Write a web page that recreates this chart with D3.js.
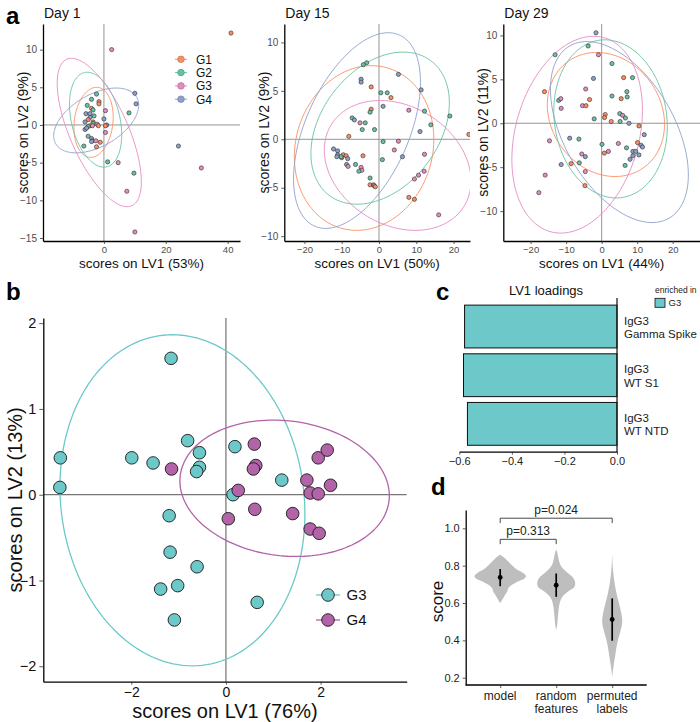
<!DOCTYPE html>
<html><head><meta charset="utf-8">
<script src="https://cdn.jsdelivr.net/npm/d3@7"></script>
<style>body{margin:0;background:#fff} text{font-family:"Liberation Sans",Arial,sans-serif}</style>
</head><body><svg id="c" width="700" height="722"></svg>
<script>
// ---------- DATA ----------
const groups = ["G1","G2","G3","G4"];
const groupColors = ["#FC8D62","#66C2A5","#E78AC3","#8DA0CB"];
// [group index, LV1, LV2]
const day1Points = [
 [0,41.1,12.2],[2,2.5,10.0],[3,10.0,4.2],[3,10.4,2.8],[1,8.1,1.6],[3,24.1,-2.8],[2,31.5,-5.7],[1,1.2,-4.9],[2,4.6,-5.0],[1,9.7,-6.4],[2,7.4,-8.8],[2,10.0,-14.2],
 [1,-2.4,4.1],[1,-4.0,3.4],[0,-1.6,3.1],[0,-1.6,2.8],[1,-5.4,2.6],[0,-4.0,2.2],[1,-3.5,2.0],[2,0.5,1.9],[3,-5.8,1.5],[3,-4.5,1.5],[1,-3.2,1.2],[3,-4.5,1.0],[0,-5.1,0.7],[3,0.0,0.8],[3,-6.1,0.4],[0,-3.5,0.4],[1,-3.5,0.2],[2,-2.2,0.1],[0,-4.5,-0.1],[2,-3.7,-0.1],[1,-5.1,-0.2],[0,-1.8,-0.1],[1,0.9,0.0],[0,0.5,-0.1],[3,-6.1,-0.6],[3,-5.6,-0.4],[2,0.5,-1.0],[1,-5.1,-1.5],[3,-4.0,-1.8],[0,-3.7,-2.1],[2,-2.6,-2.1],[0,-1.2,-2.3],[3,-4.0,-2.2],[1,-6.5,-2.8],[0,-2.4,-2.9]
];
const day15Points = [
 [1,-3.3,7.9],[1,-4.2,7.7],[3,-4.8,6.2],[3,-4.8,5.9],[3,5.2,6.7],[0,-2.1,5.4],[1,0.5,4.8],[1,2.2,4.8],[0,3.2,4.3],[3,11.3,5.1],[3,1.1,3.4],[0,-2.1,3.1],[1,-2.4,2.8],[2,8.0,3.0],[1,12.2,2.9],[1,19.0,2.4],[1,13.9,1.5],[1,-7.2,2.2],[3,-6.6,2.0],[2,-5.1,1.7],[1,-3.7,1.7],[1,-4.5,1.0],[1,-1.2,1.0],[0,-8.1,0.3],[3,11.0,0.8],[0,24.1,0.5],[1,1.1,-0.24],[2,5.2,-0.2],[2,4.1,-1.1],[3,-12.2,-1.0],[3,-11.1,-1.2],[3,-11.1,-1.6],[0,-9.6,-1.6],[0,-8.8,-1.7],[0,-10.0,-1.9],[1,-10.2,-1.8],[3,-8.4,-2.0],[0,-4.3,-1.7],[3,-11.3,-1.8],[3,-8.7,-2.6],[2,-8.3,-2.8],[1,-6.3,-2.6],[3,6.3,-1.8],[2,12.2,-1.55],[1,0.9,-2.1],[2,-4.8,-2.9],[2,-4.6,-3.2],[1,-5.4,-3.3],[2,12.1,-3.3],[2,10.6,-3.7],[2,9.5,-4.1],[1,-2.4,-4.0],[0,-2.4,-4.7],[0,-1.5,-4.7],[2,-1.3,-4.8],[0,-1.0,-4.9],[0,8.0,-6.0],[0,9.5,-6.2],[2,16.0,-7.8]
];
const day29Points = [
 [3,-1.6,10.3],[1,-3.8,8.8],[2,-0.9,7.8],[1,-13.1,7.8],
 [1,2.9,6.8],[0,6.2,5.2],[1,8.7,5.2],[3,-2.3,5.1],[0,-16.1,3.6],[2,-4.5,3.9],[1,7.1,3.6],[1,7.2,3.0],[1,2.9,3.1],[0,5.5,2.8],[0,-3.4,2.7],[1,-12.1,2.6],[2,-11.5,2.8],[2,-5.4,2.0],[0,-4.4,2.0],[2,-11.4,1.7],[1,5.1,1.1],[0,1.0,1.0],[2,5.9,0.9],[1,6.7,0.6],[0,0.8,0.65],[1,-2.1,0.5],[0,2.7,0.2],[1,5.2,0.2],[3,7.7,0.0],[0,10.5,-0.3],[3,12.0,-1.3],[2,-14.7,-2.0],[3,-9.0,-1.7],[1,-6.4,-1.8],[1,0.1,-2.4],[2,4.7,-2.3],[0,10.1,-2.2],[3,11.1,-2.5],[3,11.5,-2.7],[1,7.0,-2.8],[2,-5.6,-3.5],[3,-4.6,-3.8],[2,1.9,-3.2],[0,0.75,-3.4],[3,8.8,-3.2],[3,9.6,-3.2],[3,10.5,-3.6],[3,8.8,-3.7],[3,8.0,-4.1],[3,-11.4,-4.7],[0,-8.6,-4.6],[1,-6.3,-4.5],[1,6.6,-4.8],[2,-4.6,-5.5],[2,-15.9,-5.9],[0,-4.7,-7.1],[2,-17.7,-7.9]
];
// ellipses per group: [centerX, centerY, horizontal half-chord, topOffsetX, topOffsetY]
const day1Ellipses  = [[-3.35,0.35,6.28,0.95,4.65],[-2.7,0.7,8.0,-2.7,6.3],[-1.5,-1.0,10.2,-9.0,9.85],[-2.5,0.6,12.1,6.5,4.3]];
const day15Ellipses = [[-4.0,-0.9,18.6,2.0,8.5],[0.3,1.15,17.5,6.2,7.85],[5.0,-2.7,19.1,-4.7,6.7],[-5.9,0.9,14.8,8.4,10.1]];
const day29Ellipses = [[1.2,1.0,16.3,-2.6,7.06],[2.5,0.5,15.9,-1.6,9.0],[-6.9,-1.3,17.8,4.6,11.2],[5.0,-1.0,17.1,-9.2,10.3]];
const day1XTicks = [0,20,40], day1YTicks = [-15,-10,-5,0,5,10];
const day15XTicks = [-20,-10,0,10,20], day15YTicks = [-10,-5,0,5,10];
const day29XTicks = [-20,-10,0,10,20], day29YTicks = [-10,-5,0,5,10];

// panel b
const bGroups = ["G3","G4"];
const bColors = ["#6CC8C9","#B363A8"];
const g3Scores = [[-3.50,0.43],[-3.51,0.085],[-1.99,0.43],[-1.54,0.37],[-0.81,0.63],[-0.56,0.49],[-0.56,0.32],[-0.62,0.27],[0.19,0.56],[0.15,0.0],[1.18,0.17],[-1.20,-0.245],[-1.18,-0.67],[-0.61,-0.84],[-1.38,-1.10],[-1.02,-1.06],[-1.09,-1.46],[0.66,-1.255],[-1.16,1.59]];
const g4Scores = [[-1.15,0.30],[0.60,0.59],[0.63,0.34],[0.58,0.30],[0.26,0.05],[0.05,-0.28],[0.61,-0.17],[1.41,-0.22],[1.71,0.17],[1.78,0.02],[1.95,0.01],[2.21,0.11],[1.95,0.43],[2.14,0.52],[1.78,-0.40],[1.97,-0.45]];
const bEllipses = [[-0.92,-0.065,2.58,-0.21,1.93],[1.24,0.075,2.2,-0.24,0.795]];
const bXTicks = [-2,0,2], bYTicks = [-2,-1,0,1,2];

// panel c
const loadingFeatures = [["IgG3","Gamma Spike"],["IgG3","WT S1"],["IgG3","WT NTD"]];
const loadingValues = [-0.58,-0.584,-0.569];
const cXTicks = [-0.6,-0.4,-0.2,0.0];

// panel d
const dCategories = ["model","random features","permuted labels"];
const dLabels = [["model"],["random","features"],["permuted","labels"]];
// violin outlines: [score, relative density]
const violinModel = [[0.858,0],[0.84,0.18],[0.82,0.33],[0.80,0.48],[0.78,0.65],[0.765,0.85],[0.75,0.98],[0.74,1.0],[0.73,0.93],[0.72,0.78],[0.705,0.55],[0.69,0.38],[0.675,0.30],[0.66,0.27],[0.645,0.20],[0.63,0.13],[0.615,0.07],[0.60,0]];
const violinRandom = [[0.888,0],[0.87,0.04],[0.85,0.07],[0.82,0.12],[0.795,0.2],[0.775,0.33],[0.755,0.5],[0.735,0.66],[0.715,0.73],[0.70,0.74],[0.685,0.7],[0.67,0.55],[0.655,0.4],[0.635,0.25],[0.615,0.17],[0.59,0.12],[0.56,0.09],[0.53,0.07],[0.50,0.05],[0.475,0.03],[0.455,0]];
const violinPermuted = [[0.86,0],[0.80,0.02],[0.74,0.06],[0.70,0.1],[0.65,0.17],[0.60,0.26],[0.56,0.33],[0.525,0.38],[0.50,0.39],[0.47,0.36],[0.44,0.30],[0.41,0.24],[0.38,0.19],[0.35,0.15],[0.32,0.12],[0.29,0.08],[0.26,0.05],[0.23,0.02],[0.20,0]];
const dMeans = [0.737,0.695,0.512];
const dLows = [0.69,0.633,0.398];
const dHighs = [0.782,0.758,0.625];
const dBrackets = [["model","random features",0.941,0.915,"p=0.313"],["model","permuted labels",1.054,1.028,"p=0.024"]];
const dYTicks = [0.2,0.4,0.6,0.8,1.0];

// ---------- DRAWING ----------
const svg = d3.select("#c");
const defs = svg.append("defs");
function ellipsePts(e,n=160){const [cx,cy,hx,vx,vy]=e;return d3.range(n).map(i=>{const t=2*Math.PI*i/n;return [cx+hx*Math.cos(t)+vx*Math.sin(t),cy+vy*Math.sin(t)];});}
function styleAxis(sel,txtColor,fs){
  sel.select(".domain").attr("stroke","#000").attr("stroke-width",1.3);
  sel.selectAll(".tick line").attr("stroke","#333").attr("stroke-width",0.8);
  sel.selectAll(".tick text").attr("fill",txtColor).attr("font-size",fs).attr("font-family","Liberation Sans, Arial, sans-serif");
}

function scatterA(o){
  const x=d3.scaleLinear().domain(o.xDomain).range([o.left,o.right]);
  const y=d3.scaleLinear().domain(o.yDomain).range([o.bottom,o.top]);
  const g=svg.append("g");
  defs.append("clipPath").attr("id","clip"+o.id).append("rect").attr("x",o.left).attr("y",o.top).attr("width",o.right-o.left).attr("height",o.bottom-o.top);
  const pg=g.append("g").attr("clip-path",`url(#clip${o.id})`);
  pg.append("line").attr("x1",x(0)).attr("x2",x(0)).attr("y1",o.top).attr("y2",o.bottom).attr("stroke","#7a7a7a").attr("stroke-width",0.8);
  pg.append("line").attr("x1",o.left).attr("x2",o.right).attr("y1",y(0)).attr("y2",y(0)).attr("stroke","#7a7a7a").attr("stroke-width",0.8);
  const line=d3.line().x(d=>x(d[0])).y(d=>y(d[1])).curve(d3.curveLinearClosed);
  o.ellipses.forEach((e,i)=>pg.append("path").attr("d",line(ellipsePts(e))).attr("fill","none").attr("stroke",groupColors[i]).attr("stroke-width",0.9));
  pg.selectAll("circle").data(o.points).join("circle").attr("cx",d=>x(d[1])).attr("cy",d=>y(d[2])).attr("r",2.1)
    .attr("fill",d=>groupColors[d[0]]).attr("stroke","#2a2a2a").attr("stroke-width",0.6);
  const xa=g.append("g").attr("transform",`translate(0,${o.bottom})`).call(d3.axisBottom(x).tickValues(o.xTicks).tickSize(3).tickPadding(2).tickSizeOuter(0));
  const ya=g.append("g").attr("transform",`translate(${o.left},0)`).call(d3.axisLeft(y).tickValues(o.yTicks).tickSize(3).tickSizeOuter(0));
  styleAxis(xa,"#4D4D4D",9.5); styleAxis(ya,"#4D4D4D",10);
  g.append("text").attr("x",(o.left+o.right)/2).attr("y",o.bottom+26.5).attr("text-anchor","middle").attr("font-size",13.5).attr("fill","#111").text(o.xTitle);
  g.append("text").attr("transform",`translate(${o.left-15},${(o.top+o.bottom)/2}) rotate(-90)`).attr("text-anchor","middle").attr("font-size",14).attr("fill","#111").text(o.yTitle);
  g.append("text").attr("x",o.left+1).attr("y",18).attr("font-size",14).attr("fill","#111").text(o.title);
  return {x,y};
}

scatterA({id:1,left:43,right:240,top:24,bottom:241,xDomain:[-19.7,44],yDomain:[-15.4,13.4],points:day1Points,ellipses:day1Ellipses,xTicks:day1XTicks,yTicks:day1YTicks,xTitle:"scores on LV1 (53%)",yTitle:"scores on LV2 (9%)",title:"Day 1"});
scatterA({id:2,left:284.3,right:470,top:24,bottom:241,xDomain:[-25.4,24.4],yDomain:[-10.5,11.9],points:day15Points,ellipses:day15Ellipses,xTicks:day15XTicks,yTicks:day15YTicks,xTitle:"scores on LV1 (50%)",yTitle:"scores on LV2 (9%)",title:"Day 15"});
scatterA({id:3,left:503.3,right:700,top:24,bottom:241,xDomain:[-27.7,27.7],yDomain:[-13.4,11.3],points:day29Points,ellipses:day29Ellipses,xTicks:day29XTicks,yTicks:day29YTicks,xTitle:"scores on LV1 (44%)",yTitle:"scores on LV2 (11%)",title:"Day 29"});

// legend panel a
const legA=svg.append("g");
groups.forEach((gname,i)=>{
  const yy=59.3+i*13.3;
  legA.append("line").attr("x1",175).attr("x2",187).attr("y1",yy).attr("y2",yy).attr("stroke",groupColors[i]).attr("stroke-width",1);
  legA.append("circle").attr("cx",181).attr("cy",yy).attr("r",3.3).attr("fill",groupColors[i]).attr("stroke",d3.color(groupColors[i]).darker(0.6)).attr("stroke-width",0.7);
  legA.append("text").attr("x",196).attr("y",yy+4.3).attr("font-size",12).attr("fill","#111").text(gname);
});

// ----- panel b -----
(function(){
  const L=43.3,R=406.7,T=318,B=681.7;
  const x=d3.scaleLinear().domain([-3.86,3.82]).range([L,R]);
  const y=d3.scaleLinear().domain([-2.18,2.06]).range([B,T]);
  const g=svg.append("g");
  g.append("line").attr("x1",x(0)).attr("x2",x(0)).attr("y1",T).attr("y2",B).attr("stroke","#555").attr("stroke-width",1);
  g.append("line").attr("x1",L).attr("x2",R).attr("y1",y(0)).attr("y2",y(0)).attr("stroke","#555").attr("stroke-width",1);
  const line=d3.line().x(d=>x(d[0])).y(d=>y(d[1])).curve(d3.curveLinearClosed);
  bEllipses.forEach((e,i)=>g.append("path").attr("d",line(ellipsePts(e))).attr("fill","none").attr("stroke",bColors[i]).attr("stroke-width",1.3));
  [g3Scores,g4Scores].forEach((pts,i)=>{
    g.append("g").selectAll("circle").data(pts).join("circle").attr("cx",d=>x(d[0])).attr("cy",d=>y(d[1])).attr("r",6.3)
      .attr("fill",bColors[i]).attr("stroke","#1a1a1a").attr("stroke-width",0.9);
  });
  const fmt=d3.format("d");
  const xa=g.append("g").attr("transform",`translate(0,${B})`).call(d3.axisBottom(x).tickValues(bXTicks).tickFormat(fmt).tickSize(3).tickPadding(2).tickSizeOuter(0));
  const ya=g.append("g").attr("transform",`translate(${L},0)`).call(d3.axisLeft(y).tickValues(bYTicks).tickFormat(fmt).tickSize(4).tickSizeOuter(0));
  styleAxis(xa,"#111",14); styleAxis(ya,"#111",14.5);
  g.append("text").attr("x",(L+R)/2).attr("y",718).attr("text-anchor","middle").attr("font-size",20).attr("fill","#111").text("scores on LV1 (76%)");
  g.append("text").attr("transform",`translate(22,${(T+B)/2}) rotate(-90)`).attr("text-anchor","middle").attr("font-size",20).attr("fill","#111").text("scores on LV2 (13%)");
  bGroups.forEach((gn,i)=>{
    const yy=595+i*25;
    g.append("line").attr("x1",316).attr("x2",340).attr("y1",yy).attr("y2",yy).attr("stroke",bColors[i]).attr("stroke-width",1.3);
    g.append("circle").attr("cx",328).attr("cy",yy).attr("r",6.3).attr("fill",bColors[i]).attr("stroke","#1a1a1a").attr("stroke-width",0.9);
    g.append("text").attr("x",346.5).attr("y",yy+5.3).attr("font-size",15).attr("fill","#111").text(gn);
  });
})();

// ----- panel c -----
(function(){
  const x=d3.scaleLinear().domain([-0.6,0]).range([459.3,617]);
  const y=d3.scaleBand().domain(d3.range(loadingValues.length)).range([302.2,448.2]).paddingInner(0.12).paddingOuter(0.06);
  const g=svg.append("g");
  g.selectAll("rect").data(loadingValues).join("rect").attr("x",d=>x(d)).attr("y",(d,i)=>y(i)).attr("width",d=>x(0)-x(d)).attr("height",y.bandwidth())
    .attr("fill","#6CC8C9").attr("stroke","#111").attr("stroke-width",1);
  g.append("line").attr("x1",x(0)).attr("x2",x(0)).attr("y1",298).attr("y2",452).attr("stroke","#111").attr("stroke-width",1.2);
  const xa=g.append("g").attr("transform","translate(0,451.7)").call(d3.axisBottom(x).tickValues(cXTicks).tickFormat(d3.format(".1f")).tickSize(3).tickSizeOuter(0));
  styleAxis(xa,"#222",11);
  loadingFeatures.forEach((f,i)=>{
    const cy=y(i)+y.bandwidth()/2;
    f.forEach((t,j)=>g.append("text").attr("x",624).attr("y",cy-2+j*13.3).attr("font-size",11.5).attr("fill","#222").text(t));
  });
  g.append("text").attr("x",546).attr("y",295).attr("text-anchor","middle").attr("font-size",13).attr("fill","#111").text("LV1 loadings");
  g.append("text").attr("x",655).attr("y",293).attr("font-size",8.5).attr("fill","#222").text("enriched in");
  g.append("rect").attr("x",655).attr("y",298.3).attr("width",10).attr("height",9).attr("fill","#6CC8C9").attr("stroke","#111").attr("stroke-width",0.8);
  g.append("text").attr("x",668.5).attr("y",306).attr("font-size",9.5).attr("fill","#222").text("G3");
})();

// ----- panel d -----
(function(){
  const L=465.7,R=646.7,T=510,B=685;
  const x=d3.scalePoint().domain(dCategories).range([L,R]).padding(0.616);
  const y=d3.scaleLinear().domain([0.161,1.098]).range([B,T]);
  const w=d3.scaleLinear().domain([0,1]).range([0,25.7]);
  const g=svg.append("g");
  [violinModel,violinRandom,violinPermuted].forEach((v,i)=>{
    const cx=x(dCategories[i]);
    const area=d3.area().y(d=>y(d[0])).x0(d=>cx-w(d[1])).x1(d=>cx+w(d[1])).curve(d3.curveCatmullRom);
    g.append("path").attr("d",area(v)).attr("fill","#BEBEBE");
  });
  dCategories.forEach((c,i)=>{
    g.append("line").attr("x1",x(c)).attr("x2",x(c)).attr("y1",y(dLows[i])).attr("y2",y(dHighs[i])).attr("stroke","#000").attr("stroke-width",1.7);
    g.append("circle").attr("cx",x(c)).attr("cy",y(dMeans[i])).attr("r",2.4).attr("fill","#000");
  });
  dBrackets.forEach(b=>{
    const x1=x(b[0]),x2=x(b[1]);
    g.append("path").attr("d",`M${x1},${y(b[3])}V${y(b[2])}H${x2}V${y(b[3])}`).attr("fill","none").attr("stroke","#333").attr("stroke-width",0.9);
    g.append("text").attr("x",(x1+x2)/2).attr("y",y(b[2])-4).attr("text-anchor","middle").attr("font-size",12).attr("fill","#222").text(b[4]);
  });
  const xa=g.append("g").attr("transform",`translate(0,${B})`).call(d3.axisBottom(x).tickSize(3).tickSizeOuter(0).tickFormat(()=>""));
  const ya=g.append("g").attr("transform",`translate(${L},0)`).call(d3.axisLeft(y).tickValues(dYTicks).tickFormat(d3.format(".1f")).tickSize(3).tickSizeOuter(0));
  styleAxis(xa,"#222",12); styleAxis(ya,"#222",11);
  xa.select(".domain").attr("d",`M${L},0H${R}`);
  dLabels.forEach((lab,i)=>lab.forEach((t,j)=>g.append("text").attr("x",x(dCategories[i])).attr("y",700+j*13.3).attr("text-anchor","middle").attr("font-size",12).attr("fill","#222").text(t)));
  g.append("text").attr("transform",`translate(443,${(T+B)/2+4}) rotate(-90)`).attr("text-anchor","middle").attr("font-size",17).attr("fill","#111").text("score");
})();

// panel letters
[["a",6,24],["b",6,300],["c",436,300],["d",431,495]].forEach(p=>svg.append("text").attr("x",p[1]).attr("y",p[2]).attr("font-size",24).attr("font-weight","bold").attr("fill","#000").text(p[0]));
</script></body></html>
